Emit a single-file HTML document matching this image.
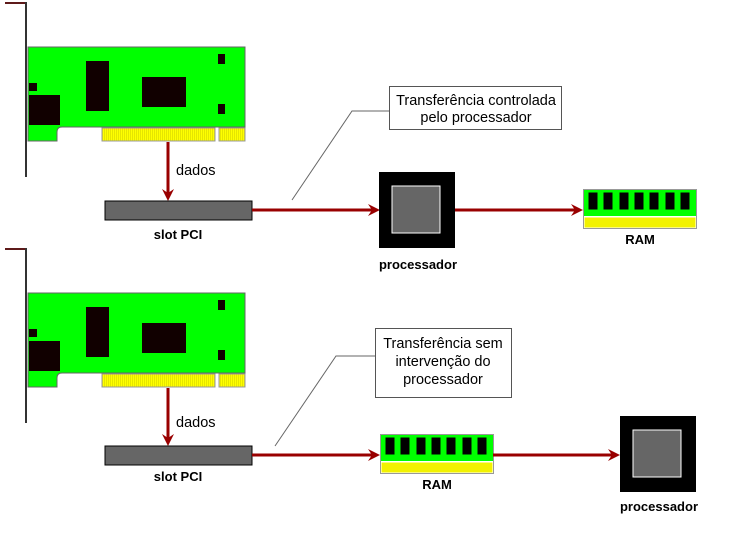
<!DOCTYPE html>
<html><head><meta charset="utf-8"><style>
html,body{margin:0;padding:0;background:#fff;width:748px;height:557px;overflow:hidden}
svg{display:block}
text{font-family:"Liberation Sans",sans-serif;font-size:14.5px;fill:#000}
.b{font-weight:bold;font-size:13px}
</style></head><body>
<svg width="748" height="557" viewBox="0 0 748 557" xmlns="http://www.w3.org/2000/svg">
<defs>
<pattern id="yl" width="2" height="4" patternUnits="userSpaceOnUse"><rect width="2" height="4" fill="#ffff00"/><rect width="1" height="4" fill="#e6e600"/></pattern>
<g id="card">
<path d="M5 3 H26 V177" fill="none" stroke="#333" stroke-width="2"/>
<path d="M5 3 H25" stroke="#800" stroke-width="1"/>
<path d="M28 47 H245 V127 H62 Q57 127 57 132 V141 H28 Z" fill="#00ff00" stroke="#666" stroke-width="1"/>
<rect x="102" y="128" width="113" height="13" fill="url(#yl)" stroke="#999" stroke-width="1"/>
<rect x="219" y="128" width="26" height="13" fill="url(#yl)" stroke="#999" stroke-width="1"/>
<rect x="29" y="83" width="8" height="8" fill="#100"/>
<rect x="29" y="95" width="31" height="30" fill="#100"/>
<rect x="86" y="61" width="23" height="50" fill="#100"/>
<rect x="142" y="77" width="44" height="30" fill="#100"/>
<rect x="218" y="54" width="7" height="10" fill="#100"/>
<rect x="218" y="104" width="7" height="10" fill="#100"/>
</g>
<g id="ram">
<rect x="0" y="0" width="113" height="39" fill="#fff" stroke="#999"/>
<rect x="0.5" y="0.5" width="112" height="26" fill="#00ff00"/>
<rect x="1" y="28" width="111" height="10" fill="url(#yl)"/>
<rect x="5" y="3" width="9" height="17" fill="#000"/>
<rect x="20" y="3" width="9" height="17" fill="#000"/>
<rect x="36" y="3" width="9" height="17" fill="#000"/>
<rect x="51" y="3" width="9" height="17" fill="#000"/>
<rect x="66" y="3" width="9" height="17" fill="#000"/>
<rect x="82" y="3" width="9" height="17" fill="#000"/>
<rect x="97" y="3" width="9" height="17" fill="#000"/>
</g>
<g id="cpu">
<rect x="0" y="0" width="76" height="76" fill="#000"/>
<rect x="13" y="14" width="48" height="47" fill="#666" stroke="#fff" stroke-width="1"/>
</g>
<g id="ah"><path d="M-12 -6 L0 0 L-12 6 L-8 0 Z" fill="#900"/></g>
</defs>

<use href="#card"/>
<line x1="168" y1="142" x2="168" y2="198" stroke="#900" stroke-width="3"/>
<use href="#ah" transform="translate(168,201) rotate(90)"/>
<text x="176" y="175">dados</text>
<rect x="105" y="201" width="147" height="19" fill="#666" stroke="#000"/>
<text class="b" x="178" y="239" text-anchor="middle">slot PCI</text>
<line x1="252" y1="210" x2="376" y2="210" stroke="#900" stroke-width="3"/>
<use href="#ah" transform="translate(380,210)"/>
<use href="#cpu" transform="translate(379,172)"/>
<text class="b" x="418" y="269" text-anchor="middle">processador</text>
<line x1="455" y1="210" x2="579" y2="210" stroke="#900" stroke-width="3"/>
<use href="#ah" transform="translate(583,210)"/>
<use href="#ram" transform="translate(583.5,189.5)"/>
<text class="b" x="640" y="244" text-anchor="middle">RAM</text>
<polyline points="292,200 352,111 389,111" fill="none" stroke="#666" stroke-width="1"/>
<rect x="389.5" y="86.5" width="172" height="43" fill="#fff" stroke="#555"/>
<text x="476" y="105" text-anchor="middle">Transferência controlada</text>
<text x="476" y="122" text-anchor="middle">pelo processador</text>

<use href="#card" transform="translate(0,246)"/>
<line x1="168" y1="388" x2="168" y2="443" stroke="#900" stroke-width="3"/>
<use href="#ah" transform="translate(168,446) rotate(90)"/>
<text x="176" y="427">dados</text>
<rect x="105" y="446" width="147" height="19" fill="#666" stroke="#000"/>
<text class="b" x="178" y="481" text-anchor="middle">slot PCI</text>
<line x1="252" y1="455" x2="376" y2="455" stroke="#900" stroke-width="3"/>
<use href="#ah" transform="translate(380,455)"/>
<use href="#ram" transform="translate(380.5,434.5)"/>
<text class="b" x="437" y="489" text-anchor="middle">RAM</text>
<line x1="493" y1="455" x2="616" y2="455" stroke="#900" stroke-width="3"/>
<use href="#ah" transform="translate(620,455)"/>
<use href="#cpu" transform="translate(620,416)"/>
<text class="b" x="659" y="511" text-anchor="middle">processador</text>
<polyline points="275,446 336,356 375,356" fill="none" stroke="#666" stroke-width="1"/>
<rect x="375.5" y="328.5" width="136" height="69" fill="#fff" stroke="#555"/>
<text x="443" y="348" text-anchor="middle">Transferência sem</text>
<text x="443" y="366" text-anchor="middle">intervenção do</text>
<text x="443" y="384" text-anchor="middle">processador</text>
</svg>
</body></html>
